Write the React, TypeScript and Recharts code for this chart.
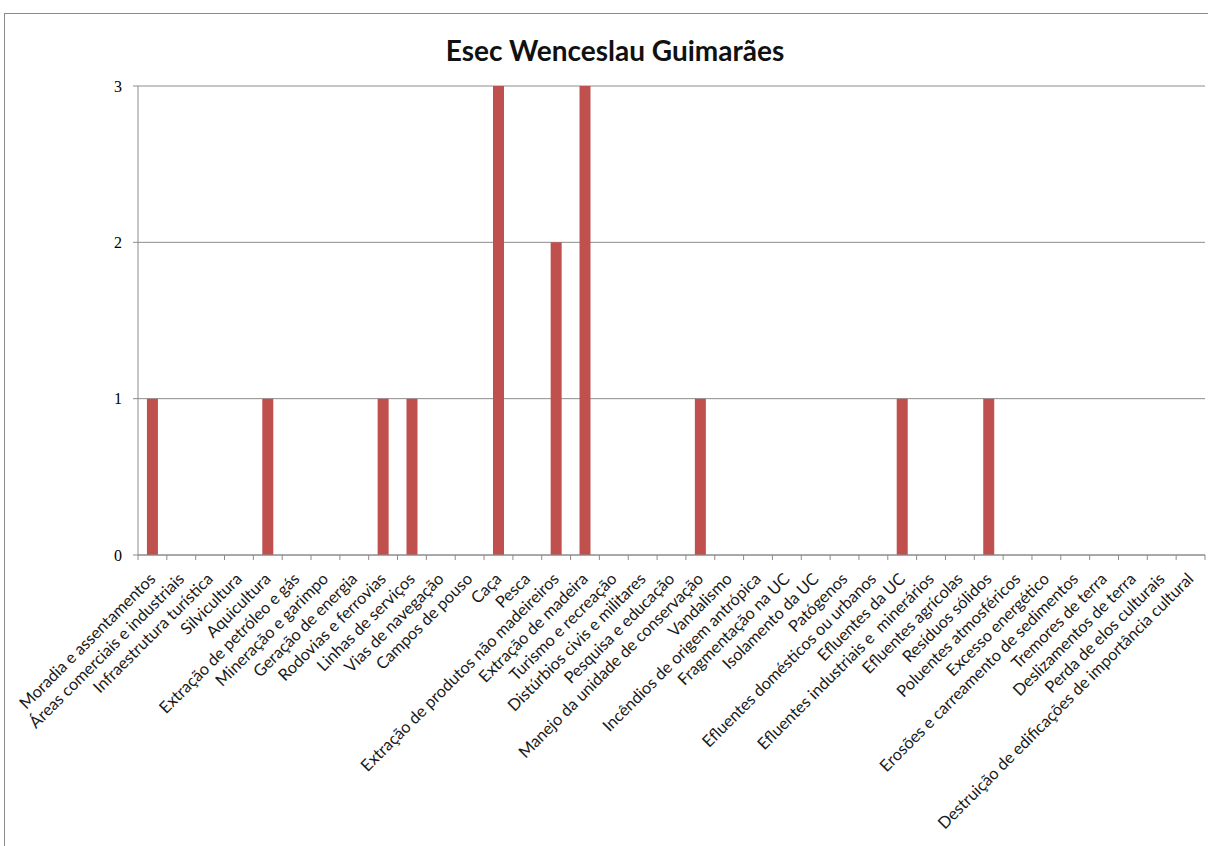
import React from "react";
import { BarChart, Bar, XAxis, YAxis, CartesianGrid } from "recharts";

const categories = [
  "Moradia e assentamentos",
  "Áreas comerciais e industriais",
  "Infraestrutura turística",
  "Silvicultura",
  "Aquicultura",
  "Extração de petróleo e gás",
  "Mineração e garimpo",
  "Geração de energia",
  "Rodovias e ferrovias",
  "Linhas de serviços",
  "Vias de navegação",
  "Campos de pouso",
  "Caça",
  "Pesca",
  "Extração de produtos não madeireiros",
  "Extração de madeira",
  "Turismo e recreação",
  "Distúrbios civis e militares",
  "Pesquisa e educação",
  "Manejo da unidade de conservação",
  "Vandalismo",
  "Incêndios de origem antrópica",
  "Fragmentação na UC",
  "Isolamento da UC",
  "Patógenos",
  "Efluentes domésticos ou urbanos",
  "Efluentes da UC",
  "Efluentes industriais e  minerários",
  "Efluentes agrícolas",
  "Resíduos sólidos",
  "Poluentes atmosféricos",
  "Excesso energético",
  "Erosões e carreamento de sedimentos",
  "Tremores de terra",
  "Deslizamentos de terra",
  "Perda de elos culturais",
  "Destruição de edificações de importância cultural",
];

const counts = [
  1, 0, 0, 0, 1, 0, 0, 0, 1, 1, 0, 0, 3, 0, 2, 3, 0, 0, 0, 1, 0, 0, 0, 0, 0, 0,
  1, 0, 0, 1, 0, 0, 0, 0, 0, 0, 0,
];

const yTicks = [0, 1, 2, 3];

const data = categories.map((name, i) => ({ name, value: counts[i] }));

const CHART_W = 1208;
const CHART_H = 846;
const Y_AXIS_W = 138;
const RIGHT = 3;
const BAND = (CHART_W - Y_AXIS_W - RIGHT) / categories.length;
const GRID = "#8c8c8c";

// category label rotated 45°, with tick marks on the band edges
function CategoryTick(props: any) {
  const { x, y, payload, index } = props;
  const lx = x + 4;
  const ly = y + 25;
  return (
    <g>
      <line x1={x - BAND / 2} x2={x - BAND / 2} y1={y} y2={y + 5} stroke={GRID} />
      {index === categories.length - 1 && (
        <line x1={x + BAND / 2} x2={x + BAND / 2} y1={y} y2={y + 5} stroke={GRID} />
      )}
      <text
        x={lx}
        y={ly}
        transform={`rotate(-45, ${lx}, ${ly})`}
        textAnchor="end"
        fontFamily="Lato, sans-serif"
        fontSize={16.4}
        fill="#1a1a1a"
        style={{ whiteSpace: "pre" }}
      >
        {payload.value}
      </text>
    </g>
  );
}

export default function App() {
  return (
    <div style={{ position: "absolute", left: 0, top: 0, width: CHART_W, height: CHART_H, background: "#fff", overflow: "hidden" }}>
      <div
        style={{
          position: "absolute",
          left: 4,
          top: 13,
          width: 1230,
          height: 860,
          border: "1px solid #8a8a8a",
        }}
      />
      <div
        style={{
          position: "absolute",
          left: 0,
          top: 34,
          width: 1230,
          textAlign: "center",
          fontFamily: "Lato, sans-serif",
          fontWeight: 700,
          fontSize: 28,
          lineHeight: 1.2,
          color: "#111",
        }}
      >
        Esec Wenceslau Guimarães
      </div>
      <div style={{ position: "absolute", left: 0, top: 0 }}>
        <BarChart
          width={CHART_W}
          height={CHART_H}
          data={data}
          margin={{ top: 86, right: RIGHT, left: 0, bottom: 0 }}
          barCategoryGap="31%"
        >
          <CartesianGrid horizontal vertical={false} stroke={GRID} />
          <XAxis
            dataKey="name"
            interval={0}
            height={291}
            tickSize={0}
            tickMargin={0}
            tickLine={false}
            axisLine={{ stroke: GRID }}
            tick={<CategoryTick />}
          />
          <YAxis
            width={Y_AXIS_W}
            domain={[0, 3]}
            ticks={yTicks}
            tickSize={5}
            tickMargin={11}
            axisLine={{ stroke: GRID }}
            tickLine={{ stroke: GRID }}
            tick={{ fontFamily: "'Liberation Serif', serif", fontSize: 16, fill: "#000" }}
          />
          <Bar dataKey="value" fill="#C0504D" isAnimationActive={false} />
        </BarChart>
      </div>
    </div>
  );
}
